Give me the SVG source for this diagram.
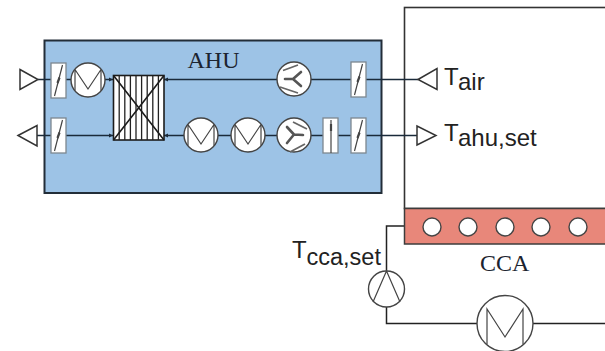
<svg xmlns="http://www.w3.org/2000/svg" width="605" height="351" viewBox="0 0 605 351">
<style>
.ln{fill:none;stroke:#1a2a3a;stroke-width:1.6}
.lk{fill:none;stroke:#222;stroke-width:1.5}
.sym{fill:#fff;stroke:#444;stroke-width:1.4}
.thin{fill:none;stroke:#444;stroke-width:1.2}
.slat{fill:none;stroke:#666;stroke-width:1.8}
.dmp{fill:#fff;stroke:#7d8790;stroke-width:1.3}
.tri{fill:#fff;stroke:#333;stroke-width:1.5}
.blade{fill:none;stroke:#555;stroke-width:2.6;stroke-linecap:round}
.ser{font-family:"Liberation Serif",serif;font-size:24px;fill:#1c2430}
.san{font-family:"Liberation Sans",Arial,sans-serif;font-size:24px;fill:#222}
</style>
<defs>
<g id="damper"><rect class="dmp" x="-7.500" y="-17.500" width="15" height="35"/><path class="thin" d="M-4 15.500L4-15.500"/><path d="M-1 2.500L1-3" stroke="#444" stroke-width="2.200"/></g>
<g id="hx"><circle class="sym" r="17"/><path class="thin" d="M-13-10.500V10.500M13-10.500V10.500M-13-10.500L0 9L13-10.500"/></g>
</defs>
<g id="room"><rect x="404.500" y="7.500" width="204" height="201" fill="#fff" stroke="#333" stroke-width="1.600"/></g>
<g id="ahu"><rect x="44.500" y="40.500" width="337" height="152.500" fill="#9dc3e6" stroke="#222d38" stroke-width="2"/>
<text class="ser" x="187.500" y="68">AHU</text></g>
<g id="connectors">
<path class="ln" d="M38 79.500H113M164 79.500H418"/>
<path class="ln" d="M37 135.500H113M164 135.500H417"/>
<path class="lk" d="M404 226H386.500V271M386.500 307V323.500H477M533 323.500H605"/>
<path d="M113 79.500l-4-2v4zM164 79.500l4-2v4zM113 135.500l-4-2v4zM164 135.500l4-2v4z" fill="#1a2a3a"/>
</g>
<g id="inlet-left"><path class="tri" d="M20 69.500L38 79.500L20 89.500Z"/></g>
<g id="outlet-left"><path class="tri" d="M18 135.500L37 125.500V146Z"/></g>
<g id="damper-1"><use href="#damper" x="58.500" y="80.500"/></g>
<g id="damper-2"><use href="#damper" x="58.500" y="135.500"/></g>
<g id="coil-1"><use href="#hx" x="88" y="80"/></g>
<g id="exchanger"><rect x="113.500" y="75.500" width="50.500" height="64.500" fill="#fff" stroke="#1c1c1c" stroke-width="1.600"/>
<path d="M119.200 75.500V140M124.800 75.500V140M130.400 75.500V140M136 75.500V140M141.600 75.500V140M147.200 75.500V140M152.800 75.500V140M158.400 75.500V140" fill="none" stroke="#222" stroke-width="1.300"/>
<path d="M113.500 75.500L164 140M164 75.500L113.500 140" fill="none" stroke="#1c1c1c" stroke-width="1.600"/></g>
<g id="fan-top"><circle class="sym" cx="294" cy="79" r="17"/><path class="blade" d="M293 79H285M293 79L301 72M293 79L301 86"/><path class="slat" d="M283 70.500L298 65M280 87L298 93"/></g>
<g id="damper-3"><use href="#damper" x="358.500" y="79.500"/></g>
<g id="coil-2"><use href="#hx" x="201" y="135"/></g>
<g id="coil-3"><use href="#hx" x="248" y="135"/></g>
<g id="fan-bottom"><circle class="sym" cx="294" cy="135" r="17"/><path class="blade" d="M294 134.500L303 135M294 134.500L287 127M294 134.500L287 143"/><path class="slat" d="M293 122L307 129M290 152L305 144"/></g>
<g id="damper-4"><rect class="dmp" x="323" y="118" width="15" height="35"/><path class="thin" d="M331 120V153"/><path d="M331 124V131" stroke="#444" stroke-width="2.200"/></g>
<g id="damper-5"><use href="#damper" x="358.500" y="135.500"/></g>
<g id="sensor-air"><path class="tri" d="M418 79.500L437 68.500V89.500Z"/><text class="san" x="444" y="85">T</text><text class="san" x="458" y="90">air</text></g>
<g id="sensor-ahu"><path class="tri" d="M417 126V145L436 135.500Z"/><text class="san" x="444" y="141">T</text><text class="san" x="458" y="146">ahu,set</text></g>
<g id="cca"><rect x="404.500" y="208.500" width="204" height="35.500" fill="#e8877a" stroke="#3c3c3c" stroke-width="1.500"/>
<circle class="sym" cx="432" cy="227" r="9"/><circle class="sym" cx="468" cy="227" r="9"/><circle class="sym" cx="505" cy="227" r="9"/><circle class="sym" cx="541" cy="227" r="9"/><circle class="sym" cx="578" cy="227" r="9"/>
<text class="ser" x="480" y="271">CCA</text></g>
<g id="pump"><circle class="sym" cx="386.500" cy="289" r="18"/><path class="thin" d="M373 302L386.500 271L400 302"/><text class="san" x="292" y="258">T</text><text class="san" style="font-size:23.500px" x="306.500" y="265">cca,set</text></g>
<g id="coil-cca"><circle class="sym" cx="505" cy="323.500" r="28"/><path class="thin" d="M487 344V309L505 337L523 309V344" stroke-width="1.500"/></g>
</svg>
